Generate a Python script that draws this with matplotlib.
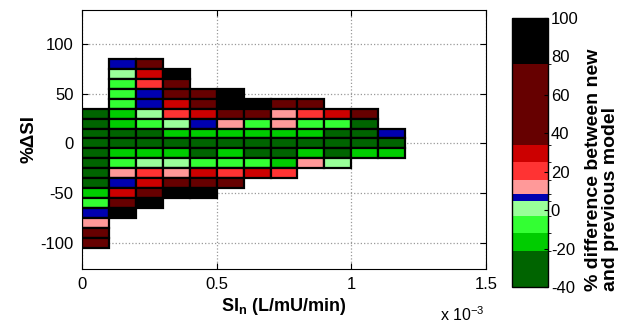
import numpy as np
import matplotlib
matplotlib.use("Agg")
import matplotlib.pyplot as plt
from matplotlib.colors import ListedColormap, BoundaryNorm

plt.rcParams['font.family'] = ['Liberation Sans', 'DejaVu Sans']
plt.rcParams['mathtext.fontset'] = 'custom'
plt.rcParams['mathtext.rm'] = 'Liberation Sans'
plt.rcParams['mathtext.bf'] = 'Liberation Sans:bold'
plt.rcParams['axes.unicode_minus'] = False

#data: left edge of each SIn bin (L/mU/min) and centre of each %dSI bin
sin_left = [0.0, 0.0001, 0.0002, 0.0003, 0.0004, 0.0005,
            0.0006, 0.0007, 0.0008, 0.0009, 0.0010, 0.0011]
dsi_rows = [80, 70, 60, 50, 40, 30, 20, 10, 0, -10,
            -20, -30, -40, -50, -60, -70, -80, -90, -100]

n = np.nan
#% difference between new and previous model, one list per dSI row
pct_diff = [
    [n, 6, 55, n, n, n, n, n, n, n, n, n],
    [n, 1, 30, 88, n, n, n, n, n, n, n, n],
    [n, -7, 20, 55, n, n, n, n, n, n, n, n],
    [n, -7, 6, 55, 55, 88, n, n, n, n, n, n],
    [n, -7, 6, 30, 55, 88, 88, 55, 55, n, n, n],
    [-30, -17, 1, 20, 30, 55, 55, 12, 20, 30, 55, n],
    [-30, -17, -7, 1, 6, 12, -7, 12, -7, -7, -30, n],
    [-30, -30, -30, -17, -17, -17, -17, -17, -17, -30, -30, 6],
    [-30, -30, -30, -30, -30, -30, -30, -30, -30, -30, -30, -30],
    [-30, -17, -17, -17, -30, -17, -30, -30, -17, -30, -17, -17],
    [-30, -7, 1, 1, -7, -7, -7, -17, 12, 1, n, n],
    [-30, 12, 20, 12, 30, 20, 30, 20, n, n, n, n],
    [-30, 6, 30, 55, 55, 55, n, n, n, n, n, n],
    [-17, 30, 55, 88, 88, n, n, n, n, n, n, n],
    [-7, 55, 88, n, n, n, n, n, n, n, n, n],
    [6, 88, n, n, n, n, n, n, n, n, n, n],
    [12, n, n, n, n, n, n, n, n, n, n, n],
    [55, n, n, n, n, n, n, n, n, n, n, n],
    [55, n, n, n, n, n, n, n, n, n, n, n],
]

#discrete colour scale like the original colorbar
levels = [-40, -21.4, -11.9, -2.9, 4.6, 8.4, 15.9, 25, 34.1, 76.2, 100]
colors = ['#006400', '#00cc00', '#33ff33', '#99ff99', '#0000b0',
          '#ff9999', '#ff3333', '#cc0000', '#660000', '#000000']
cmap = ListedColormap(colors)
norm = BoundaryNorm(levels, cmap.N)

fig = plt.figure(figsize=(6.28, 3.23), dpi=100)
ax = fig.add_axes([0.1306, 0.1672, 0.6433, 0.8019])

x_left = np.array(sin_left)
for row, vals in zip(dsi_rows, pct_diff):
    vals = np.array(vals, dtype=float)
    ok = ~np.isnan(vals)
    ax.bar(x_left[ok], 10, width=0.0001, bottom=row - 5, align='edge',
           color=cmap(norm(vals[ok])), edgecolor='black', linewidth=1.6,
           zorder=2)

ax.set_xlim(0, 0.0015)
ax.set_ylim(-126, 134)
ax.set_xticks([0, 0.0005, 0.001, 0.0015])
ax.set_xticklabels(['0', '0.5', '1', '1.5'])
ax.set_yticks([-100, -50, 0, 50, 100])
ax.tick_params(direction='in', top=True, right=True, labelsize=12,
               length=4, pad=6)
ax.grid(True, color='#999999', linestyle=':', linewidth=0.9, zorder=0)
ax.set_axisbelow(True)

ax.set_xlabel(r'SI$_{\mathbf{n}}$ (L/mU/min)', fontsize=13,
              fontweight='bold', labelpad=3)
ax.set_ylabel('%ΔSI', fontsize=13.5, fontweight='bold', labelpad=2)
fig.text(0.70, 0.005, r'x 10$^{-3}$', fontsize=11.5)

#colorbar
cax = fig.add_axes([0.8153, 0.1115, 0.0573, 0.8328])
sm = plt.cm.ScalarMappable(cmap=cmap, norm=norm)
cb = fig.colorbar(sm, cax=cax, spacing='proportional',
                  ticks=[-40, -20, 0, 20, 40, 60, 80, 100])
cb.ax.tick_params(labelsize=12, direction='in', length=3, pad=2)
cb.outline.set_linewidth(1.0)

#colorbar title, both lines start at the bottom
fig.text(0.959, 0.10, '% difference between new\nand previous model',
         rotation=90, fontsize=14, fontweight='bold', ha='center',
         va='bottom', multialignment='left', linespacing=1.0)

fig.savefig('out.png', dpi=100)
